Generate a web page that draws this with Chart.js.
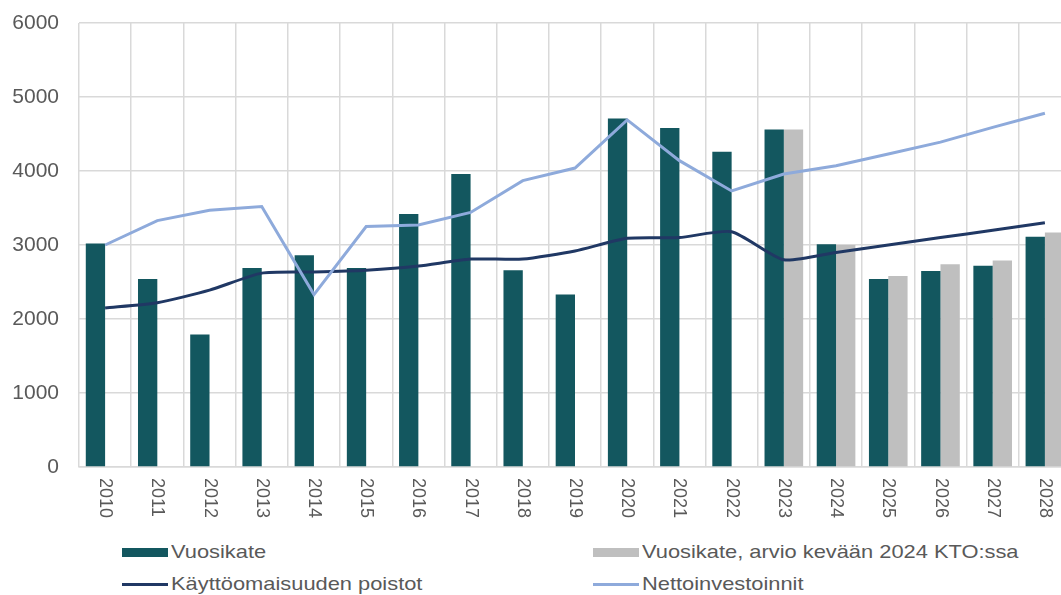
<!DOCTYPE html>
<html lang="fi">
<head>
    <meta charset="UTF-8">
    <title>Vuosikate ja investoinnit</title>
    <script src="https://cdn.jsdelivr.net/npm/chart.js"></script>
    <style>
        body {
            margin: 0;
            padding: 0;
            background: #fff;
            overflow: hidden;
            width: 1061px;
            height: 595px;
            font-family: 'Liberation Sans', Arial, sans-serif;
        }
        #wrap {
            position: relative;
            width: 1061px;
            height: 595px;
            overflow: hidden;
        }
        canvas {
            position: absolute;
            left: 0;
            top: 0;
        }
        .lg {
            position: absolute;
            display: flex;
            align-items: center;
            font-size: 19px;
            color: #595959;
            white-space: nowrap;
        }
        .lg .txt {
            display: inline-block;
            transform: scaleX(1.15);
            transform-origin: left center;
        }
        .sw-box { width: 46px; height: 9px; margin-right: 3px; }
        .sw-line { width: 46px; height: 3px; margin-right: 3px; }
    </style>
</head>
<body>
<div id="wrap">
    <canvas id="chart" width="1072" height="530"></canvas>
    <div class="lg" style="left:122px; top:541px;"><span class="sw-box" style="background:#13575f"></span><span class="txt">Vuosikate</span></div>
    <div class="lg" style="left:593px; top:541px;"><span class="sw-box" style="background:#bfbfbf"></span><span class="txt">Vuosikate, arvio kevään 2024 KTO:ssa</span></div>
    <div class="lg" style="left:122px; top:573px;"><span class="sw-line" style="background:#203864"></span><span class="txt">Käyttöomaisuuden poistot</span></div>
    <div class="lg" style="left:593px; top:573px;"><span class="sw-line" style="background:#8eaadb"></span><span class="txt">Nettoinvestoinnit</span></div>
</div>
<script>
const years = ['2010','2011','2012','2013','2014','2015','2016','2017','2018','2019',
               '2020','2021','2022','2023','2024','2025','2026','2027','2028'];
const vuosikate = [3020, 2540, 1790, 2690, 2860, 2690, 3420, 3960, 2660, 2330,
                   4710, 4580, 4260, 4560, 3010, 2540, 2650, 2720, 3110];
const vuosikateArvio = [null, null, null, null, null, null, null, null, null, null,
                        null, null, null, 4560, 3000, 2580, 2740, 2790, 3170];
const poistot = [2150, 2220, 2390, 2620, 2635, 2660, 2715, 2810, 2810, 2920,
                 3090, 3100, 3180, 2800, 2900, 3000, 3100, 3200, 3300];
const nettoinvestoinnit = [3000, 3330, 3470, 3520, 2330, 3250, 3270, 3440, 3870, 4040,
                           4690, 4140, 3730, 3960, 4070, 4230, 4390, 4590, 4780];
const yTicks = [0, 1000, 2000, 3000, 4000, 5000, 6000];

const textColor = '#595959';
const gridColor = '#d9d9d9';

// x labels read top-to-bottom, which Chart.js can't rotate that way; draw them ourselves
const downLabels = {
    id: 'downLabels',
    afterDraw(chart) {
        const x = chart.scales.x;
        const ctx = chart.ctx;
        ctx.save();
        ctx.fillStyle = textColor;
        ctx.font = '18px "Liberation Sans", Arial, sans-serif';
        ctx.textAlign = 'left';
        ctx.textBaseline = 'middle';
        years.forEach((lab, i) => {
            const px = x.getPixelForTick(i);
            ctx.save();
            ctx.translate(px, x.top + 11);
            ctx.rotate(Math.PI / 2);
            ctx.fillText(lab, 0, 0);
            ctx.restore();
        });
        ctx.restore();
    }
};

new Chart(document.getElementById('chart'), {
    type: 'bar',
    data: {
        labels: years,
        datasets: [
            {
                type: 'line',
                label: 'Nettoinvestoinnit',
                data: nettoinvestoinnit,
                borderColor: '#8eaadb',
                borderWidth: 3,
                pointRadius: 0,
                tension: 0,
                order: 0
            },
            {
                type: 'line',
                label: 'Käyttöomaisuuden poistot',
                data: poistot,
                borderColor: '#203864',
                borderWidth: 3,
                pointRadius: 0,
                tension: 0.2,
                order: 1
            },
            {
                label: 'Vuosikate',
                data: vuosikate,
                backgroundColor: '#13575f',
                categoryPercentage: 0.74,
                barPercentage: 1.0,
                order: 2
            },
            {
                label: 'Vuosikate, arvio kevään 2024 KTO:ssa',
                data: vuosikateArvio,
                backgroundColor: '#bfbfbf',
                categoryPercentage: 0.74,
                barPercentage: 1.0,
                order: 2
            }
        ]
    },
    options: {
        responsive: false,
        animation: false,
        layout: { padding: { top: 23, right: 1, left: 0, bottom: 0 } },
        plugins: {
            legend: { display: false },
            tooltip: { enabled: false }
        },
        scales: {
            x: {
                offset: true,
                grid: { color: gridColor, lineWidth: 1.5, offset: true, drawTicks: false },
                border: { color: gridColor, width: 1.5 },
                ticks: { display: false },
                afterFit: s => { s.height = 63; }
            },
            y: {
                min: 0,
                max: 6000,
                afterBuildTicks: s => { s.ticks = yTicks.map(v => ({ value: v })); },
                grid: { color: gridColor, lineWidth: 1.5, drawTicks: false },
                border: { display: false },
                ticks: {
                    color: textColor,
                    padding: 20,
                    callback: v => String(v),
                    font: { family: '"Liberation Sans", Arial, sans-serif', size: 21 }
                },
                afterFit: s => { s.width = 79; s.paddingTop = 0; s.paddingBottom = 0; }
            }
        }
    },
    plugins: [downLabels]
});
</script>
</body>
</html>
